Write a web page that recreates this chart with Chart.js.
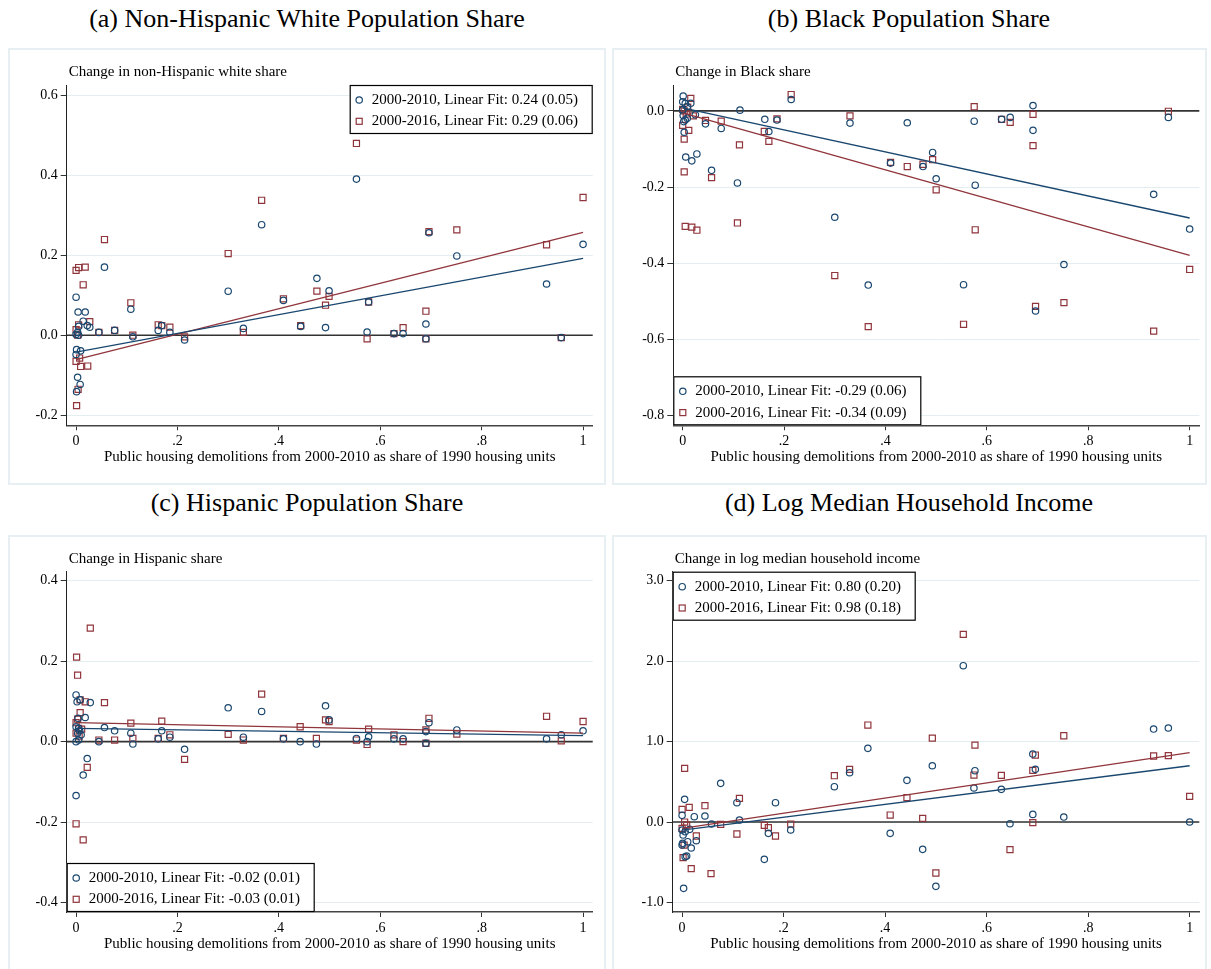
<!DOCTYPE html>
<html>
<head>
<meta charset="utf-8">
<script src="https://cdn.jsdelivr.net/npm/chart.js@4.4.1/dist/chart.umd.min.js"></script>
<style>
  body { margin: 0; background: #fff; width: 1211px; height: 969px; position: relative; overflow: hidden; }
  .frame { position: absolute; box-sizing: border-box; border: 2px solid #e8eff2; }
  .ptitle { position: absolute; width: 600px; margin-left: -300px; text-align: center;
            font-family: "Liberation Serif", "Times New Roman", serif; font-size: 26px; line-height: 30px; color: #000; }
  canvas { position: absolute; }
</style>
</head>
<body>
<div class="ptitle" style="left:307px; top:4px;">(a) Non-Hispanic White Population Share</div>
<div class="ptitle" style="left:909px; top:4px;">(b) Black Population Share</div>
<div class="ptitle" style="left:307px; top:488px;">(c) Hispanic Population Share</div>
<div class="ptitle" style="left:909px; top:488px;">(d) Log Median Household Income</div>

<div class="frame" style="left:8px; top:48px; width:598px; height:437px;"></div>
<div class="frame" style="left:612px; top:48px; width:595px; height:437px;"></div>
<div class="frame" style="left:8px; top:535px; width:598px; height:440px;"></div>
<div class="frame" style="left:612px; top:535px; width:595px; height:440px;"></div>

<canvas id="chartA" width="597" height="435" style="left:9px; top:50px;"></canvas>
<canvas id="chartB" width="592" height="435" style="left:614px; top:50px;"></canvas>
<canvas id="chartC" width="597" height="432" style="left:9px; top:537px;"></canvas>
<canvas id="chartD" width="592" height="432" style="left:614px; top:537px;"></canvas>

<script>
// --- axes ---
const xTicks = [0, 0.2, 0.4, 0.6, 0.8, 1];
const xTickLabels = ['0', '.2', '.4', '.6', '.8', '1'];
const xTitle = 'Public housing demolitions from 2000-2010 as share of 1990 housing units';
const fitX = [0, 1];

// (a) non-Hispanic white share
const yTicksA = [-0.2, 0, 0.2, 0.4, 0.6];
const yLabelsA = ['-0.2', '0.0', '0.2', '0.4', '0.6'];
const xWhite10 = [0, 0.004, 0.018, 0.014, 0.005, 0.022, 0.027, 0.003, 0, 0.005, 0.001, 0.009, 0, 0.003, 0.008, 0.001, 0.045, 0.056, 0.076, 0.108, 0.112, 0.162, 0.169, 0.185, 0.214, 0.300, 0.330, 0.366, 0.409, 0.443, 0.475, 0.492, 0.499, 0.553, 0.574, 0.577, 0.627, 0.645, 0.690, 0.690, 0.696, 0.751, 0.928, 0.957, 1.0];
const yWhite10 = [0.095, 0.058, 0.058, 0.035, 0.022, 0.024, 0.020, 0.007, 0.002, 0, -0.036, -0.039, -0.048, -0.105, -0.123, -0.141, 0.007, 0.170, 0.012, 0.065, -0.004, 0.012, 0.024, 0.007, -0.012, 0.110, 0.017, 0.276, 0.087, 0.022, 0.142, 0.019, 0.111, 0.390, 0.008, 0.083, 0.004, 0.004, 0.028, -0.009, 0.256, 0.198, 0.128, -0.006, 0.227];
const xWhite16 = [0, 0.005, 0.018, 0.014, 0, 0.005, 0.003, 0, 0.007, 0.009, 0.023, 0.004, 0.001, 0.027, 0.045, 0.056, 0.076, 0.108, 0.112, 0.162, 0.169, 0.185, 0.214, 0.300, 0.330, 0.366, 0.409, 0.443, 0.475, 0.492, 0.499, 0.553, 0.574, 0.577, 0.627, 0.645, 0.690, 0.690, 0.696, 0.751, 0.928, 0.957, 1.0];
const yWhite16 = [0.162, 0.169, 0.170, 0.126, 0.014, 0.026, 0, -0.065, -0.057, -0.078, -0.077, -0.135, -0.176, 0.034, 0.007, 0.239, 0.012, 0.081, 0.0, 0.026, 0.024, 0.020, -0.004, 0.204, 0.007, 0.337, 0.091, 0.024, 0.110, 0.075, 0.097, 0.479, -0.009, 0.083, 0.004, 0.019, 0.060, -0.009, 0.259, 0.263, 0.226, -0.006, 0.344];
const fitWhite10 = [-0.042, 0.192];
const fitWhite16 = [-0.061, 0.257];
const legendA = ['2000-2010, Linear Fit: 0.24 (0.05)', '2000-2016, Linear Fit: 0.29 (0.06)'];

// (b) Black share
const yTicksB = [-0.8, -0.6, -0.4, -0.2, 0];
const yLabelsB = ['-0.8', '-0.6', '-0.4', '-0.2', '0.0'];
const xBlack10 = [0.001, 0, 0.005, 0.016, 0.009, 0, 0.001, 0.005, 0.009, 0.002, 0.025, 0.003, 0.006, 0.018, 0.028, 0.045, 0.057, 0.076, 0.108, 0.113, 0.162, 0.170, 0.186, 0.214, 0.300, 0.330, 0.366, 0.410, 0.443, 0.474, 0.493, 0.500, 0.554, 0.575, 0.577, 0.629, 0.646, 0.691, 0.691, 0.696, 0.752, 0.929, 0.958, 1.0];
const yBlack10 = [0.039, 0.024, 0.020, 0.020, 0.011, 0.003, -0.012, -0.024, -0.019, -0.028, -0.010, -0.056, -0.121, -0.131, -0.113, -0.034, -0.156, -0.046, -0.189, 0.002, -0.022, -0.054, -0.024, 0.030, -0.279, -0.032, -0.457, -0.137, -0.031, -0.146, -0.109, -0.178, -0.456, -0.027, -0.195, -0.022, -0.017, 0.014, -0.051, -0.525, -0.403, -0.219, -0.017, -0.310];
const xBlack16 = [0.016, 0, 0.003, 0.010, 0.007, 0, 0.003, 0.012, 0.021, 0.003, 0.005, 0.018, 0.028, 0.045, 0.057, 0.076, 0.108, 0.112, 0.161, 0.170, 0.186, 0.214, 0.300, 0.330, 0.366, 0.410, 0.443, 0.474, 0.493, 0.500, 0.554, 0.575, 0.577, 0.629, 0.646, 0.691, 0.691, 0.696, 0.752, 0.929, 0.958, 1.0];
const yBlack16 = [0.033, 0.004, 0, 0.010, -0.008, -0.038, -0.074, -0.051, -0.013, -0.160, -0.303, -0.305, -0.313, -0.025, -0.175, -0.027, -0.294, -0.089, -0.054, -0.080, -0.021, 0.043, -0.432, -0.013, -0.566, -0.135, -0.146, -0.140, -0.128, -0.207, -0.560, 0.011, -0.312, -0.022, -0.030, -0.009, -0.091, -0.513, -0.503, -0.578, -0.001, -0.416];
const fitBlack10 = [0.008, -0.281];
const fitBlack16 = [-0.005, -0.379];
const legendB = ['2000-2010, Linear Fit: -0.29 (0.06)', '2000-2016, Linear Fit: -0.34 (0.09)'];

// (c) Hispanic share
const yTicksC = [-0.4, -0.2, 0, 0.2, 0.4];
const yLabelsC = ['-0.4', '-0.2', '0.0', '0.2', '0.4'];
const xHisp10 = [0, 0.002, 0.008, 0.028, 0.004, 0.018, 0, 0.005, 0.007, 0.010, 0.003, 0, 0.005, 0.022, 0.014, 0, 0.045, 0.056, 0.076, 0.108, 0.112, 0.162, 0.169, 0.185, 0.214, 0.300, 0.330, 0.366, 0.409, 0.442, 0.474, 0.492, 0.499, 0.553, 0.574, 0.577, 0.627, 0.645, 0.690, 0.690, 0.696, 0.751, 0.928, 0.957, 1.0];
const yHisp10 = [0.116, 0.099, 0.104, 0.097, 0.058, 0.060, 0.037, 0.033, 0.027, 0.017, 0.021, 0, 0.004, -0.042, -0.083, -0.134, 0, 0.035, 0.027, 0.021, -0.006, 0.007, 0.027, 0.011, -0.019, 0.084, 0.011, 0.075, 0.007, 0, -0.006, 0.089, 0.054, 0.008, 0, 0.012, 0.007, 0.007, 0.025, -0.004, 0.047, 0.029, 0.007, 0.017, 0.027];
const xHisp16 = [0.001, 0.003, 0.028, 0.008, 0.018, 0.008, 0.003, 0, 0.005, 0.011, 0, 0.006, 0.022, 0, 0.014, 0.045, 0.056, 0.076, 0.108, 0.112, 0.162, 0.169, 0.185, 0.214, 0.300, 0.330, 0.366, 0.409, 0.442, 0.474, 0.492, 0.499, 0.553, 0.574, 0.577, 0.627, 0.645, 0.690, 0.690, 0.696, 0.751, 0.928, 0.957, 1.0];
const yHisp16 = [0.210, 0.165, 0.282, 0.104, 0.099, 0.072, 0.056, 0.047, 0.033, 0.031, 0.021, 0.014, -0.064, -0.204, -0.244, 0.004, 0.097, 0.004, 0.046, 0.008, 0.008, 0.051, 0.017, -0.044, 0.018, 0.004, 0.118, 0.008, 0.037, 0.008, 0.054, 0.050, 0.004, -0.007, 0.031, 0.017, 0, 0.029, -0.004, 0.058, 0.019, 0.063, 0.002, 0.050];
const fitHisp10 = [0.033, 0.015];
const fitHisp16 = [0.047, 0.021];
const legendC = ['2000-2010, Linear Fit: -0.02 (0.01)', '2000-2016, Linear Fit: -0.03 (0.01)'];

// (d) log median household income
const yTicksD = [-1, 0, 1, 2, 3];
const yLabelsD = ['-1.0', '0.0', '1.0', '2.0', '3.0'];
const xInc10 = [0.005, 0, 0.024, 0.045, 0.058, 0.076, 0.108, 0.113, 0.162, 0.170, 0.184, 0.214, 0.300, 0.330, 0.366, 0.410, 0.443, 0.474, 0, 0.002, 0.006, 0.011, 0.001, 0, 0.006, 0.009, 0.003, 0.018, 0.028, 0.015, 0.493, 0.500, 0.554, 0.575, 0.577, 0.629, 0.646, 0.691, 0.691, 0.696, 0.752, 0.929, 0.958, 1.0];
const yInc10 = [0.282, 0.083, 0.066, 0.075, -0.025, 0.481, 0.240, 0.025, -0.464, -0.141, 0.240, -0.099, 0.439, 0.613, 0.916, -0.141, 0.518, -0.340, -0.099, -0.162, -0.120, -0.245, -0.265, -0.286, -0.431, -0.423, -0.825, -0.323, -0.232, -0.091, 0.700, -0.800, 1.944, 0.423, 0.638, 0.406, -0.021, 0.095, 0.845, 0.655, 0.062, 1.156, 1.169, 0];
const xInc16 = [0.005, 0, 0.014, 0.045, 0.005, 0.009, 0, 0.004, 0.002, 0.018, 0.028, 0.057, 0.076, 0.108, 0.113, 0.162, 0.170, 0.184, 0.214, 0.300, 0.330, 0.366, 0.410, 0.443, 0.474, 0.493, 0.500, 0.554, 0.575, 0.577, 0.629, 0.646, 0.691, 0.691, 0.696, 0.752, 0.929, 0.958, 1.0];
const yInc16 = [0.667, 0.157, 0.182, 0.203, 0, -0.037, -0.079, -0.286, -0.443, -0.580, -0.174, -0.642, -0.029, -0.149, 0.294, -0.041, -0.070, -0.174, -0.025, 0.576, 0.655, 1.206, 0.087, 0.303, 0.046, 1.044, -0.634, 2.333, 0.584, 0.957, 0.580, -0.344, 0.642, -0.008, 0.833, 1.073, 0.821, 0.825, 0.319];
const fitInc10 = [-0.10, 0.70];
const fitInc16 = [-0.08, 0.862];
const legendD = ['2000-2010, Linear Fit: 0.80 (0.20)', '2000-2016, Linear Fit: 0.98 (0.18)'];

const navy = '#1a476f';
const maroon = '#90353b';
const serif = '"Liberation Serif", "Times New Roman", serif';

const pts = (xs, ys) => xs.map((x, i) => ({ x: x, y: ys[i] }));

// zero reference line, drawn under the markers
const zeroLine = {
    id: 'zeroLine',
    beforeDatasetsDraw(chart) {
        const { ctx, chartArea, scales } = chart;
        const y = scales.y.getPixelForValue(0);
        ctx.save();
        ctx.strokeStyle = '#333';
        ctx.lineWidth = 1.6;
        ctx.beginPath();
        ctx.moveTo(chartArea.left, y);
        ctx.lineTo(chartArea.right, y);
        ctx.stroke();
        ctx.restore();
    }
};

// y-axis title written horizontally above the plot
const yTitle = {
    id: 'yTitle',
    afterDraw(chart, args, opts) {
        const { ctx, chartArea } = chart;
        ctx.save();
        ctx.font = '15px ' + serif;
        ctx.fillStyle = '#000';
        ctx.textAlign = 'left';
        ctx.textBaseline = 'middle';
        ctx.fillText(opts.text, chartArea.left + 2, chartArea.top - 13);
        ctx.restore();
    }
};

// boxed legend inside the plot area
const boxLegend = {
    id: 'boxLegend',
    afterDraw(chart, args, opts) {
        const { ctx, chartArea } = chart;
        ctx.save();
        ctx.font = '15px ' + serif;
        const textW = Math.max(...opts.labels.map(t => ctx.measureText(t).width));
        const w = Math.round(textW + 37), h = 49;
        const left = opts.corner[1] === 'l' ? chartArea.left : chartArea.right - w;
        const top = opts.corner[0] === 't' ? chartArea.top : chartArea.bottom - h;
        ctx.fillStyle = '#fff';
        ctx.fillRect(left, top, w, h);
        ctx.strokeStyle = '#000';
        ctx.lineWidth = 1.2;
        ctx.strokeRect(left + 0.5, top + 0.5, w - 1, h - 1);
        opts.labels.forEach((t, i) => {
            const cy = top + 15 + i * 21.3;
            ctx.lineWidth = 1.2;
            ctx.beginPath();
            if (i === 0) {
                ctx.strokeStyle = navy;
                ctx.arc(left + 9.5, cy, 3.2, 0, Math.PI * 2);
                ctx.stroke();
            } else {
                ctx.strokeStyle = maroon;
                ctx.strokeRect(left + 6.5, cy - 3, 6, 6);
            }
            ctx.fillStyle = '#000';
            ctx.textAlign = 'left';
            ctx.textBaseline = 'middle';
            ctx.fillText(t, left + 22, cy);
        });
        ctx.restore();
    }
};

function makePanel(id, p) {
    const ctx = document.getElementById(id).getContext('2d');
    return new Chart(ctx, {
        type: 'scatter',
        data: {
            datasets: [
                { data: pts(fitX, p.fit10), showLine: true, borderColor: navy, borderWidth: 1.3, pointRadius: 0, order: 1 },
                { data: pts(fitX, p.fit16), showLine: true, borderColor: maroon, borderWidth: 1.3, pointRadius: 0, order: 2 },
                { data: pts(p.x10, p.y10), pointStyle: 'circle', pointRadius: 3.2, borderColor: navy, backgroundColor: 'rgba(0,0,0,0)', borderWidth: 1.2, order: 3 },
                { data: pts(p.x16, p.y16), pointStyle: 'rect', pointRadius: 4.3, borderColor: maroon, backgroundColor: 'rgba(0,0,0,0)', borderWidth: 1.2, order: 4 }
            ]
        },
        options: {
            responsive: false,
            animation: false,
            events: [],
            layout: { padding: { left: 0, top: p.padTop, right: p.padRight, bottom: p.padBottom } },
            plugins: {
                legend: { display: false },
                tooltip: { enabled: false },
                yTitle: { text: p.yTitle },
                boxLegend: { labels: p.legend, corner: p.corner }
            },
            scales: {
                x: {
                    type: 'linear',
                    min: -0.0185,
                    max: 1.019,
                    afterBuildTicks: s => { s.ticks = xTicks.map(v => ({ value: v })); },
                    afterFit: s => { s.height = 45; },
                    ticks: {
                        callback: v => xTickLabels[xTicks.indexOf(v)],
                        font: { family: serif, size: 14 },
                        color: '#000',
                        padding: 3,
                        maxRotation: 0,
                        autoSkip: false
                    },
                    grid: { drawOnChartArea: false, tickLength: 5, tickColor: '#333', tickWidth: 1 },
                    border: { color: '#444', width: 1.5 },
                    title: {
                        display: true,
                        text: xTitle,
                        color: '#000',
                        font: { family: serif, size: 15 },
                        padding: { top: 0, bottom: 4 }
                    }
                },
                y: {
                    type: 'linear',
                    min: p.yMin,
                    max: p.yMax,
                    afterBuildTicks: s => { s.ticks = p.yTicks.map(v => ({ value: v })); },
                    afterFit: s => { s.width = p.yWidth; },
                    ticks: {
                        callback: v => p.yLabels[p.yTicks.indexOf(v)],
                        font: { family: serif, size: 14 },
                        color: '#000',
                        padding: 3,
                        autoSkip: false
                    },
                    grid: { color: '#e4edf0', lineWidth: 1, tickLength: 6, tickColor: '#333', tickWidth: 1 },
                    border: { color: '#222', width: 1 }
                }
            }
        },
        plugins: [zeroLine, yTitle, boxLegend]
    });
}

makePanel('chartA', {
    x10: xWhite10, y10: yWhite10, x16: xWhite16, y16: yWhite16,
    fit10: fitWhite10, fit16: fitWhite16, legend: legendA, corner: 'tr',
    yTicks: yTicksA, yLabels: yLabelsA, yMin: -0.225, yMax: 0.625,
    yTitle: 'Change in non-Hispanic white share',
    yWidth: 57.7, padTop: 35, padRight: 13.3, padBottom: 14.7
});
makePanel('chartB', {
    x10: xBlack10, y10: yBlack10, x16: xBlack16, y16: yBlack16,
    fit10: fitBlack10, fit16: fitBlack16, legend: legendB, corner: 'bl',
    yTicks: yTicksB, yLabels: yLabelsB, yMin: -0.825, yMax: 0.068,
    yTitle: 'Change in Black share',
    yWidth: 59.3, padTop: 35, padRight: 6.7, padBottom: 14.7
});
makePanel('chartC', {
    x10: xHisp10, y10: yHisp10, x16: xHisp16, y16: yHisp16,
    fit10: fitHisp10, fit16: fitHisp16, legend: legendC, corner: 'bl',
    yTicks: yTicksC, yLabels: yLabelsC, yMin: -0.423, yMax: 0.422,
    yTitle: 'Change in Hispanic share',
    yWidth: 57.7, padTop: 34.7, padRight: 13.3, padBottom: 12
});
makePanel('chartD', {
    x10: xInc10, y10: yInc10, x16: xInc16, y16: yInc16,
    fit10: fitInc10, fit16: fitInc16, legend: legendD, corner: 'tl',
    yTicks: yTicksD, yLabels: yLabelsD, yMin: -1.119, yMax: 3.113,
    yTitle: 'Change in log median household income',
    yWidth: 58.7, padTop: 34.7, padRight: 6.7, padBottom: 12
});
</script>
</body>
</html>
